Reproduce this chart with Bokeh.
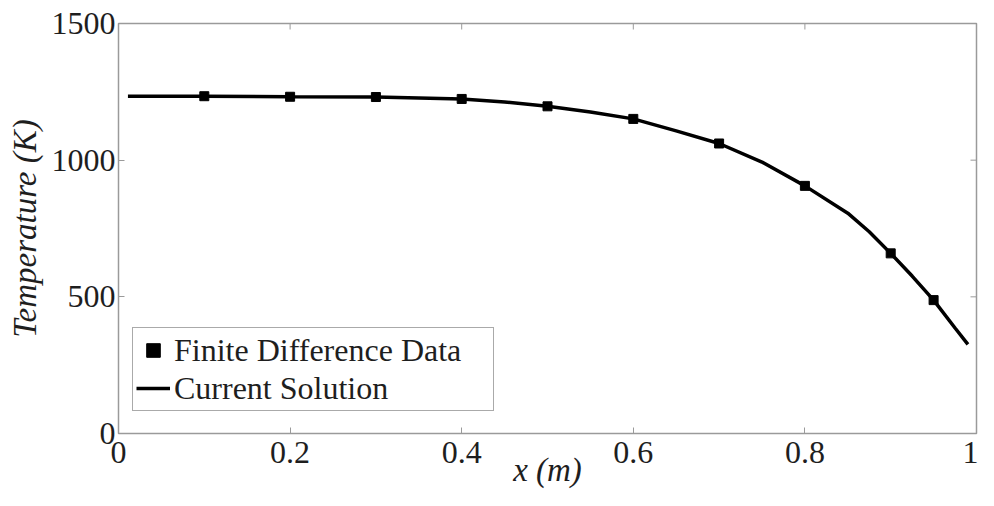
import math
from bokeh.plotting import figure
from bokeh.models import Range1d, FixedTicker, Legend, LegendItem
from bokeh.embed import file_html
from bokeh.resources import INLINE

# Finite difference data points
fd_x = [0.1, 0.2, 0.3, 0.4, 0.5, 0.6, 0.7, 0.8, 0.9, 0.95]
fd_t = [1234, 1232, 1231, 1224, 1197, 1151, 1061, 906, 659, 488]

# Current solution curve
sol_x = [0.011, 0.1, 0.2, 0.3, 0.4, 0.45, 0.5, 0.55, 0.6, 0.65, 0.7, 0.75, 0.8,
         0.85, 0.875, 0.9, 0.925, 0.95, 0.975, 0.99]
sol_t = [1234, 1234, 1232, 1231, 1224, 1213, 1197, 1176, 1151, 1107, 1061, 993, 906,
         806, 738, 659, 576, 488, 386, 326]

x_ticks = [0, 0.2, 0.4, 0.6, 0.8, 1]
y_ticks = [0, 500, 1000, 1500]

FONT = "Liberation Serif"
AXC = "#9a9a9a"
TXT = "#1e1e1e"

p = figure(width=978, height=490, output_backend="svg", toolbar_location=None,
           x_range=Range1d(0, 1), y_range=Range1d(0, 1500),
           min_border_left=118, min_border_top=23, min_border_bottom=57,
           min_border_right=2)
p.xgrid.visible = False
p.ygrid.visible = False
p.outline_line_color = AXC
p.outline_line_width = 1.5
p.background_fill_color = "white"
p.border_fill_color = "white"

for ax in (p.xaxis[0], p.yaxis[0]):
    ax.major_tick_in = 6
    ax.major_tick_out = 0
    ax.minor_tick_in = 0
    ax.minor_tick_out = 0
    ax.axis_line_color = AXC
    ax.major_tick_line_color = AXC
    ax.major_label_text_font = FONT
    ax.major_label_text_font_size = "32px"
    ax.major_label_text_color = TXT
    ax.axis_label_text_font = FONT
    ax.axis_label_text_font_style = "italic"
    ax.axis_label_text_font_size = "33px"
    ax.axis_label_text_color = TXT

p.xaxis[0].ticker = FixedTicker(ticks=x_ticks)
p.yaxis[0].ticker = FixedTicker(ticks=y_ticks)
p.xaxis[0].major_label_overrides = {0: "0", 1: "1"}
p.xaxis[0].axis_label = "x (m)"
p.yaxis[0].axis_label = "Temperature (K)"
p.xaxis[0].major_label_standoff = 8
p.yaxis[0].major_label_standoff = 3
p.xaxis[0].axis_label_standoff = -14
p.yaxis[0].axis_label_standoff = 6

# mirrored inward ticks on top and right edges
p.ray(x=x_ticks, y=[1500] * len(x_ticks), length=6, length_units="screen",
      angle=-math.pi / 2, line_color=AXC, line_width=1)
p.ray(x=[1] * len(y_ticks), y=y_ticks, length=6, length_units="screen",
      angle=math.pi, line_color=AXC, line_width=1)

line = p.line(sol_x, sol_t, line_color="black", line_width=3.5)
pts = p.scatter(fd_x, fd_t, marker="square", size=9, fill_color="black", line_color="black")

# legend glyph for data (smaller marker)
leg_pts = p.scatter([-1], [-1], marker="square", size=7, fill_color="black", line_color="black")

legend = Legend(items=[LegendItem(label="Finite Difference Data", renderers=[leg_pts]),
                       LegendItem(label="Current Solution", renderers=[line])],
                location=(14, 22))
legend.label_text_font = FONT
legend.label_text_font_size = "32px"
legend.label_text_color = TXT
legend.border_line_color = "#555555"
legend.border_line_width = 1
legend.glyph_width = 34
legend.glyph_height = 38
legend.label_height = 38
legend.label_width = 316
legend.label_standoff = 4
legend.padding = 3
legend.spacing = 0
legend.margin = 0
legend.background_fill_alpha = 1
p.add_layout(legend, "center")

open("out.html", "w").write(file_html(p, INLINE))
